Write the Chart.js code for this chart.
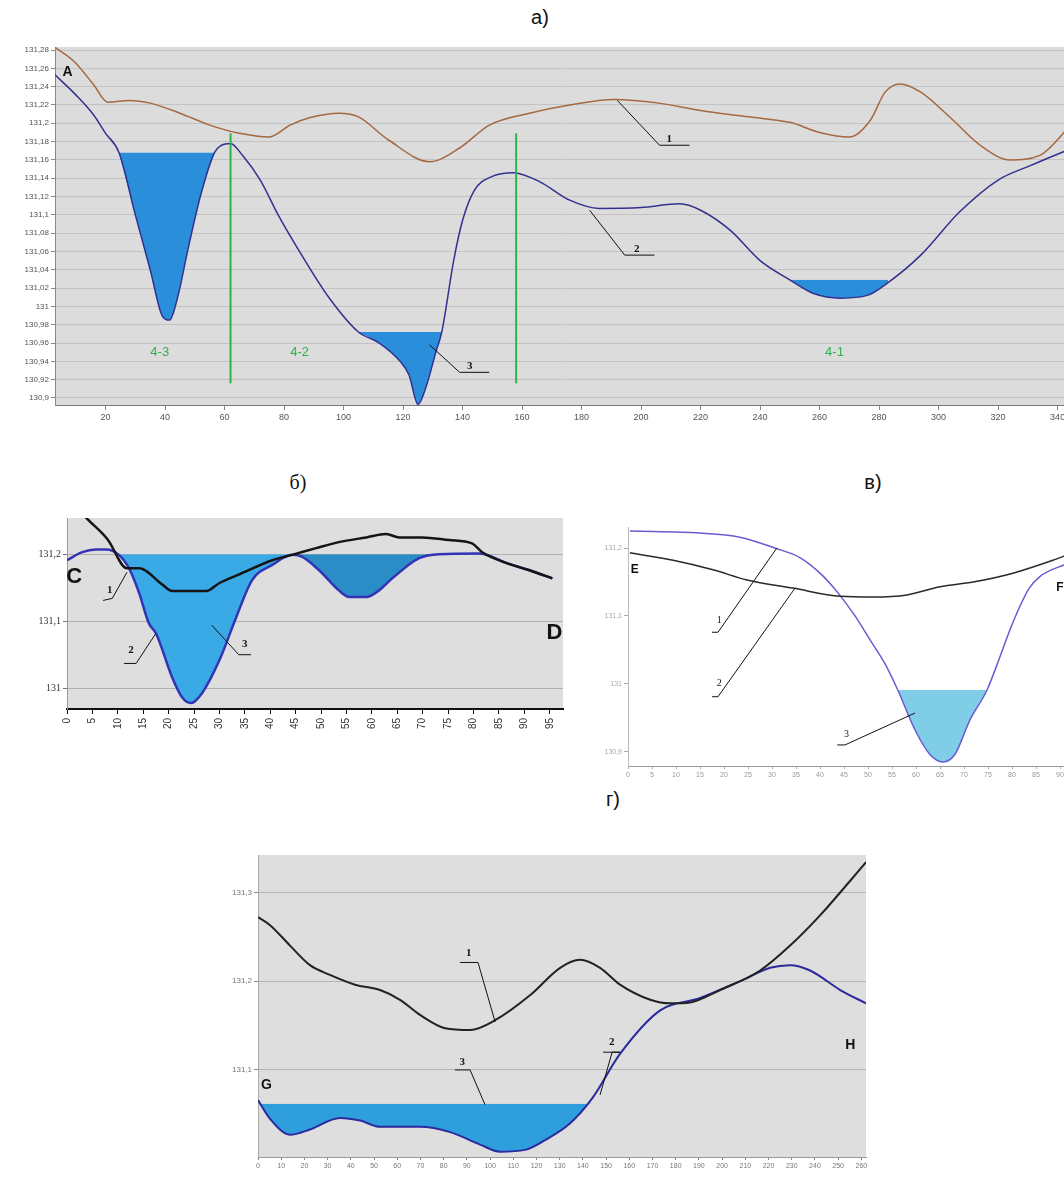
<!DOCTYPE html>
<html>
<head>
<meta charset="utf-8">
<script src="https://cdn.jsdelivr.net/npm/chart.js@4.4.1/dist/chart.umd.min.js"></script>
<style>
html, body { margin: 0; padding: 0; background: #fff; overflow: hidden; width: 1064px; height: 1177px; }
canvas { position: absolute; }
.cap { position: absolute; font-family: "Liberation Sans", Arial, sans-serif; font-size: 20px; color: #111; transform: translateX(-50%); }
.clip { position: absolute; overflow: hidden; }
</style>
</head>
<body>
<div class="cap" style="left:540px;top:6px">а)</div>
<div class="cap" style="left:298px;top:471px;font-family:'Liberation Serif',serif">б)</div>
<div class="cap" style="left:873px;top:471px">в)</div>
<div class="cap" style="left:613px;top:788px">г)</div>

<canvas id="chA" width="1100" height="400" style="left:0;top:40px"></canvas>
<canvas id="chB" width="580" height="270" style="left:0;top:505px"></canvas>
<canvas id="chV" width="520" height="270" style="left:590px;top:515px"></canvas>
<div class="clip" style="left:200px;top:845px;width:670px;height:330px">
  <canvas id="chG" width="700" height="330" style="left:0;top:0"></canvas>
</div>

<script>
// ---- а) long profile A ----
const aTicksX = [20, 40, 60, 80, 100, 120, 140, 160, 180, 200, 220, 240, 260, 280, 300, 320, 340];
const aTicksY = [130.9, 130.92, 130.94, 130.96, 130.98, 131, 131.02, 131.04, 131.06, 131.08, 131.1,
                 131.12, 131.14, 131.16, 131.18, 131.2, 131.22, 131.24, 131.26, 131.28];
const aX1 = [3, 9.6, 16, 20.7, 28, 35, 45, 55, 65, 75, 82, 88.5, 98.6, 105, 115, 129, 139, 149, 162.5, 176,
             191, 206, 220, 236, 250, 260, 270, 277, 282, 287, 294, 304, 314, 324, 334, 345];
const aY1 = [131.283, 131.267, 131.242, 131.223, 131.225, 131.222, 131.211, 131.198, 131.189, 131.185,
             131.198, 131.206, 131.211, 131.207, 131.182, 131.158, 131.173, 131.198, 131.211, 131.22,
             131.226, 131.222, 131.214, 131.207, 131.201, 131.19, 131.185, 131.203, 131.234, 131.243,
             131.234, 131.206, 131.176, 131.16, 131.165, 131.2];
const aX2 = [3, 10, 16, 20, 24.5, 30, 35, 39, 41.5, 44, 48, 52, 56.6, 59, 62, 66, 72, 78, 85, 95,
             105, 112, 119, 122, 125, 128, 131, 133, 137, 140, 144, 150, 157, 166, 176, 186, 200, 213, 220, 230,
             240, 250, 258, 267, 276, 283, 294, 307, 320, 331, 345];
const aY2 = [131.253, 131.231, 131.209, 131.189, 131.168, 131.1, 131.04, 130.99, 130.985, 131.007,
             131.067, 131.122, 131.168, 131.176, 131.178, 131.165, 131.138, 131.1, 131.061, 131.01,
             130.972, 130.96, 130.94, 130.925, 130.893, 130.915, 130.95, 130.972, 131.05, 131.094,
             131.127, 131.142, 131.146, 131.136, 131.116, 131.107, 131.108, 131.112, 131.105, 131.083,
             131.05, 131.029, 131.014, 131.009, 131.012, 131.026, 131.056, 131.103, 131.138, 131.154, 131.173];
const aPools = [[24.5, 56.6, 131.168], [105, 133, 130.972], [250, 283, 131.029]];   // from, to, water level
const aBounds = [62, 158];

// ---- б) profile C-D ----
const bTicksX = [0, 5, 10, 15, 20, 25, 30, 35, 40, 45, 50, 55, 60, 65, 70, 75, 80, 85, 90, 95];
const bTicksY = [131, 131.1, 131.2];
const bX1 = [2, 3.7, 8, 11.8, 14.2, 18.7, 20.7, 27.4, 30, 33.9, 40.4, 44.3, 49, 53.5, 58.9, 62.8, 65.4, 69.9,
             75.2, 79.7, 81.7, 86.4, 91, 95.5];
const bY1 = [131.27, 131.255, 131.222, 131.179, 131.179, 131.155, 131.145, 131.145, 131.157, 131.17,
             131.191, 131.199, 131.209, 131.218, 131.225, 131.23, 131.225, 131.225, 131.221, 131.216,
             131.203, 131.187, 131.176, 131.164];
const bX2 = [0, 3, 5.7, 7.7, 10.2, 12.2, 14.2, 16.1, 17.5, 20.7, 22.6, 24.4, 26.6, 30, 33.3, 36.4, 40.4, 44.3,
             46.3, 49.6, 53.5, 55.5, 58.9, 61.4, 64, 69.3, 73.2, 81.1, 86.4, 91, 95.5];
const bY2 = [131.191, 131.203, 131.207, 131.207, 131.199, 131.179, 131.142, 131.097, 131.082, 131.016,
             130.987, 130.978, 130.993, 131.042, 131.106, 131.161, 131.184, 131.199, 131.196, 131.176,
             131.146, 131.136, 131.136, 131.146, 131.164, 131.194, 131.2, 131.201, 131.187, 131.176, 131.164];
const bPools = [[10.2, 44.3, 131.2], [44.3, 73.2, 131.2]];

// ---- в) profile E-F ----
const vTicksX = [0, 5, 10, 15, 20, 25, 30, 35, 40, 45, 50, 55, 60, 65, 70, 75, 80, 85, 90, 95];
const vTicksY = [130.9, 131, 131.1, 131.2];
const vX1 = [0.4, 15, 23.3, 30.6, 35.8, 40, 43.75, 47.3, 50.4, 53.5, 56.2, 59.8, 62.9, 65.6, 68.1, 71.25,
             74.8, 77.5, 79.6, 81.7, 83.5, 85.8, 90.8, 95];
const vY1 = [131.225, 131.222, 131.216, 131.2, 131.186, 131.163, 131.134, 131.1, 131.065, 131.03,
             130.991, 130.932, 130.896, 130.885, 130.896, 130.947, 130.991, 131.04, 131.08, 131.115,
             131.14, 131.158, 131.175, 131.185];
const vX2 = [0.4, 9.4, 17.7, 24.8, 34.4, 44.2, 51, 58.1, 65, 71.9, 80.2, 88.5, 93];
const vY2 = [131.193, 131.182, 131.168, 131.153, 131.141, 131.129, 131.128, 131.131, 131.143, 131.15,
             131.163, 131.182, 131.194];
const vPools = [[56.2, 74.8, 130.991]];

// ---- г) profile G-H ----
const gTicksX = [0, 10, 20, 30, 40, 50, 60, 70, 80, 90, 100, 110, 120, 130, 140, 150, 160, 170, 180, 190,
                 200, 210, 220, 230, 240, 250, 260];
const gTicksY = [131.1, 131.2, 131.3];
const gX1 = [0, 5.2, 13.8, 22.4, 31, 41.8, 52.6, 61.2, 69.8, 80.6, 91.4, 102.2, 117.2, 130.2, 138.8, 147.4,
             156, 169, 177.6, 186.2, 199.1, 216.4, 229.3, 242.2, 255.2, 262];
const gY1 = [131.272, 131.263, 131.24, 131.218, 131.207, 131.196, 131.19, 131.179, 131.162, 131.147,
             131.145, 131.156, 131.184, 131.215, 131.224, 131.215, 131.196, 131.179, 131.175, 131.176,
             131.19, 131.212, 131.24, 131.274, 131.313, 131.334];
const gX2 = [0, 5.2, 13.8, 22.4, 35.3, 44, 52.6, 69.8, 82.8, 95.7, 104.3, 115.1, 123.7, 134.5, 144, 156,
             173.3, 190.5, 207.8, 220.7, 229.3, 237.9, 250.9, 262];
const gY2 = [131.066, 131.045, 131.027, 131.033, 131.046, 131.043, 131.036, 131.036, 131.03, 131.016,
             131.008, 131.01, 131.021, 131.04, 131.068, 131.118, 131.167, 131.181, 131.2, 131.215,
             131.218, 131.212, 131.19, 131.175];
const gPools = [[0, 144, 131.062]];

// helpers
const fmtTick = v => String(+v.toFixed(2)).replace('.', ',');
const pts = (xs, ys) => xs.map((x, i) => ({ x: x, y: ys[i] }));
const part = (xs, ys, from, to) => pts(xs, ys).filter(p => p.x >= from && p.x <= to);

function lineSet(data, color, width) {
    return { data: data, borderColor: color, borderWidth: width, pointRadius: 0, fill: false,
             cubicInterpolationMode: 'monotone', order: 1 };
}
function poolSet(data, level, color) {
    return { data: data, borderWidth: 0, borderColor: 'rgba(0,0,0,0)', pointRadius: 0,
             cubicInterpolationMode: 'monotone', order: 5,
             fill: { target: { value: level }, above: 'rgba(0,0,0,0)', below: color } };
}

// background + annotations (callouts, labels) in data units
function decor(bg, notes) {
    return {
        id: 'decor',
        beforeDraw(chart) {
            if (!bg) return;
            const a = chart.chartArea, c = chart.ctx;
            c.save();
            c.fillStyle = bg;
            c.fillRect(a.left, a.top, a.right - a.left, a.bottom - a.top);
            c.restore();
        },
        afterDatasetsDraw(chart) {
            const sx = chart.scales.x, sy = chart.scales.y, c = chart.ctx;
            c.save();
            (notes.lines || []).forEach(l => {
                c.strokeStyle = l.color || '#111';
                c.lineWidth = l.width || 1;
                c.beginPath();
                l.pts.forEach((p, i) => {
                    const X = sx.getPixelForValue(p[0]), Y = sy.getPixelForValue(p[1]);
                    if (i) c.lineTo(X, Y); else c.moveTo(X, Y);
                });
                c.stroke();
            });
            (notes.texts || []).forEach(t => {
                c.font = t.font;
                c.fillStyle = t.color || '#111';
                c.textAlign = 'center';
                c.textBaseline = 'middle';
                c.fillText(t.text, sx.getPixelForValue(t.at[0]), sy.getPixelForValue(t.at[1]));
            });
            c.restore();
        }
    };
}

function axis(o) {
    return {
        type: 'linear', min: o.min, max: o.max,
        afterBuildTicks: s => { s.ticks = o.ticks.map(v => ({ value: v })); },
        afterFit: s => { if (o.w) s.width = o.w; if (o.h) s.height = o.h; },
        grid: { drawOnChartArea: !!o.gridColor, color: o.gridColor || o.tickColor, tickLength: o.tickLength || 4,
                tickColor: o.tickColor, lineWidth: 1 },
        border: { color: o.borderColor, width: o.borderWidth || 1 },
        ticks: { autoSkip: false, color: o.labelColor, padding: o.pad || 2,
                 font: { family: o.family || 'Liberation Sans', size: o.size || 9 },
                 minRotation: o.rot || 0, maxRotation: o.rot || 0,
                 callback: o.fmt || (v => String(v)) }
    };
}

function build(id, datasets, scales, padding, bg, notes) {
    return new Chart(document.getElementById(id), {
        type: 'line',
        data: { datasets: datasets },
        options: {
            responsive: false, animation: false,
            layout: { padding: padding },
            plugins: { legend: { display: false }, tooltip: { enabled: false } },
            scales: scales
        },
        plugins: [decor(bg, notes)]
    });
}

const serif = 'bold 11px "Liberation Serif", serif';
const green = '#2db34a';

// а)
build('chA',
    aPools.map(p => poolSet(part(aX2, aY2, p[0], p[1]), p[2], '#2a8edb'))
        .concat([lineSet(pts(aX1, aY1), '#a5683f', 1.5), lineSet(pts(aX2, aY2), '#32318f', 1.5)]),
    {
        x: axis({ min: 3, max: 345, ticks: aTicksX, h: 30, tickColor: '#888', borderColor: '#777',
                  labelColor: '#555', tickLength: 5 }),
        y: axis({ min: 130.8923, max: 131.2833, ticks: aTicksY, w: 55, gridColor: '#c3c3c3', tickColor: '#888',
                  borderColor: '#888', labelColor: '#555', fmt: fmtTick, size: 8 })
    },
    { top: 7, right: 27.5, bottom: 5, left: 0 }, '#dcdcdc',
    {
        lines: aBounds.map(x => ({ pts: [[x, 131.189], [x, 130.916]], color: green, width: 2 })).concat([
            { pts: [[192, 131.225], [206.2, 131.176], [216.3, 131.176]], color: '#111' },
            { pts: [[182.7, 131.105], [194.5, 131.056], [204.5, 131.056]], color: '#111' },
            { pts: [[128.9, 130.958], [139, 130.928], [149, 130.928]], color: '#111' }
        ]),
        texts: [
            { at: [7.2, 131.256], text: 'A', font: 'bold 14px "Liberation Sans", sans-serif' },
            { at: [38.2, 130.95], text: '4-3', font: '13px "Liberation Sans", sans-serif', color: green },
            { at: [85.2, 130.95], text: '4-2', font: '13px "Liberation Sans", sans-serif', color: green },
            { at: [265, 130.95], text: '4-1', font: '13px "Liberation Sans", sans-serif', color: green },
            { at: [209.5, 131.183], text: '1', font: serif },
            { at: [198.5, 131.063], text: '2', font: serif },
            { at: [142.4, 130.935], text: '3', font: serif }
        ]
    });

// б)
build('chB',
    [poolSet(part(bX2, bY2, bPools[0][0], bPools[0][1]), bPools[0][2], '#3aaae6'),
     poolSet(part(bX2, bY2, bPools[1][0], bPools[1][1]), bPools[1][2], '#2b8dc6'),
     lineSet(pts(bX1, bY1), '#151515', 2.5), lineSet(pts(bX2, bY2), '#3333b5', 2.5)],
    {
        x: axis({ min: 0, max: 97.6, ticks: bTicksX, h: 50, tickColor: '#111', borderColor: '#111', borderWidth: 2,
                  labelColor: '#333', rot: 90, size: 10, tickLength: 5, pad: 4 }),
        y: axis({ min: 130.969, max: 131.254, ticks: bTicksY, w: 67, gridColor: '#b0b0b0', tickColor: '#777',
                  borderColor: '#999', labelColor: '#333', fmt: fmtTick, size: 10, family: 'Liberation Sans Narrow' })
    },
    { top: 13, right: 17, bottom: 16, left: 0 }, '#dedede',
    {
        lines: [
            { pts: [[11.8, 131.173], [8.9, 131.134], [7.1, 131.131]] },
            { pts: [[17.5, 131.082], [13.6, 131.037], [11.2, 131.037]] },
            { pts: [[28.5, 131.094], [33.8, 131.05], [36.2, 131.05]] }
        ],
        texts: [
            { at: [1.4, 131.166], text: 'C', font: 'bold 22px "Liberation Sans Narrow", sans-serif' },
            { at: [95.9, 131.083], text: 'D', font: 'bold 22px "Liberation Sans Narrow", sans-serif' },
            { at: [8.4, 131.146], text: '1', font: serif },
            { at: [12.6, 131.057], text: '2', font: serif },
            { at: [35, 131.066], text: '3', font: serif }
        ]
    });

// в)
build('chV',
    [poolSet(part(vX1, vY1, vPools[0][0], vPools[0][1]), vPools[0][2], '#7fcde6'),
     lineSet(pts(vX2, vY2), '#2a2a2a', 1.5), lineSet(pts(vX1, vY1), '#6c5ad2', 1.5)],
    {
        x: axis({ min: 0, max: 95, ticks: vTicksX, h: 16, tickColor: '#aaa', borderColor: '#999',
                  labelColor: '#999', size: 7, tickLength: 3 }),
        y: axis({ min: 130.879, max: 131.231, ticks: vTicksY, w: 38, tickColor: '#aaa',
                  borderColor: '#bbb', labelColor: '#aaa', fmt: fmtTick, size: 7 })
    },
    { top: 12, right: 26, bottom: 3, left: 0 }, null,
    {
        lines: [
            { pts: [[31, 131.2], [18.75, 131.076], [17.5, 131.076]] },
            { pts: [[34.8, 131.141], [18.75, 130.981], [17.5, 130.981]] },
            { pts: [[59.8, 130.957], [45.2, 130.91], [43.6, 130.91]] }
        ],
        texts: [
            { at: [1.4, 131.168], text: 'E', font: 'bold 12px "Liberation Sans", sans-serif' },
            { at: [90, 131.141], text: 'F', font: 'bold 12px "Liberation Sans", sans-serif' },
            { at: [19, 131.094], text: '1', font: '10px "Liberation Serif", serif' },
            { at: [19, 131.0], text: '2', font: '10px "Liberation Serif", serif' },
            { at: [45.5, 130.926], text: '3', font: '10px "Liberation Serif", serif' }
        ]
    });

// г)
build('chG',
    [poolSet(part(gX2, gY2, gPools[0][0], gPools[0][1]), gPools[0][2], '#2f9edc'),
     lineSet(pts(gX1, gY1), '#222', 2), lineSet(pts(gX2, gY2), '#2b2b9e', 2)],
    {
        x: axis({ min: 0, max: 262, ticks: gTicksX, h: 15, tickColor: '#888', borderColor: '#999',
                  labelColor: '#777', size: 7, tickLength: 3 }),
        y: axis({ min: 131.002, max: 131.342, ticks: gTicksY, w: 58, gridColor: '#b5b5b5', tickColor: '#888',
                  borderColor: '#aaa', labelColor: '#777', fmt: fmtTick, size: 8 })
    },
    { top: 10, right: 34, bottom: 3, left: 0 }, '#dedede',
    {
        lines: [
            { pts: [[102.2, 131.154], [94.8, 131.221], [87.1, 131.221]] },
            { pts: [[147.4, 131.072], [152.6, 131.12], [156, 131.12], [148.7, 131.12]] },
            { pts: [[97.8, 131.061], [91.4, 131.1], [84.9, 131.1]] }
        ],
        texts: [
            { at: [3.6, 131.083], text: 'G', font: 'bold 14px "Liberation Sans", sans-serif' },
            { at: [255.2, 131.128], text: 'H', font: 'bold 14px "Liberation Sans", sans-serif' },
            { at: [90.8, 131.232], text: '1', font: serif },
            { at: [152.4, 131.131], text: '2', font: serif },
            { at: [88, 131.109], text: '3', font: serif }
        ]
    });
</script>
</body>
</html>
